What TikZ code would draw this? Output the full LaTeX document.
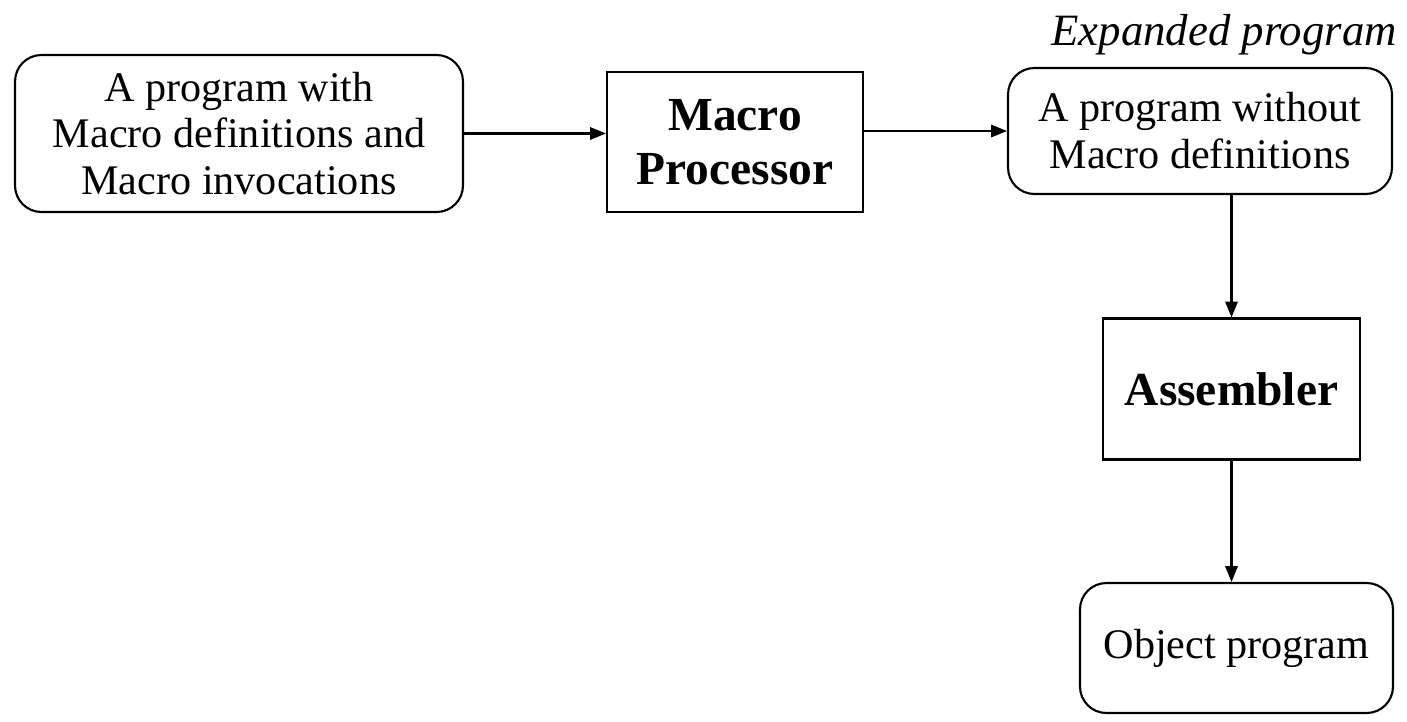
\documentclass[tikz,border=0pt]{standalone}
\usepackage{fontspec}
\setmainfont{Liberation Serif}
\usetikzlibrary{positioning, arrows.meta}

\begin{document}
\begin{tikzpicture}[x=0.02cm, y=-0.02cm, line width=1.2pt,
    >={Triangle[length=9pt, width=7pt]},
    rbox/.style={draw, rounded corners=15pt, align=center, inner sep=0pt,
        font=\fontsize{24}{26.7}\selectfont},
    sbox/.style={draw, align=center, inner sep=0pt,
        font=\fontsize{27}{30.6}\selectfont\bfseries}]
    \useasboundingbox (0,0) rectangle (1407,721);

    \node[rbox, minimum width=8.96cm, minimum height=3.14cm] (prog) at (239,133.5)
        {A program with\\Macro definitions and\\Macro invocations};
    \node[sbox, minimum width=5.12cm, minimum height=2.8cm] (mp) at (735,142)
        {Macro\\Processor};
    \node[rbox, minimum width=7.68cm, minimum height=2.52cm] (exp) at (1200,131)
        {A program without\\Macro definitions};
    \node[anchor=base east, inner sep=0pt, font=\fontsize{25.5}{28}\selectfont\itshape]
        (explbl) at (1398,45) {Expanded program};
    \node[sbox, minimum width=5.14cm, minimum height=2.82cm] (asm) at (1231.5,389)
        {Assembler};
    \node[rbox, minimum width=6.26cm, minimum height=2.6cm] (obj) at (1236.5,648)
        {Object program};

    \draw[->] (prog.east) -- (prog.east -| mp.west);
    \draw[->] (mp.east |- exp.west) -- (exp.west);
    \draw[->] (asm.north |- exp.south) -- (asm.north);
    \draw[->] (asm.south) -- (asm.south |- obj.north);
\end{tikzpicture}
\end{document}
